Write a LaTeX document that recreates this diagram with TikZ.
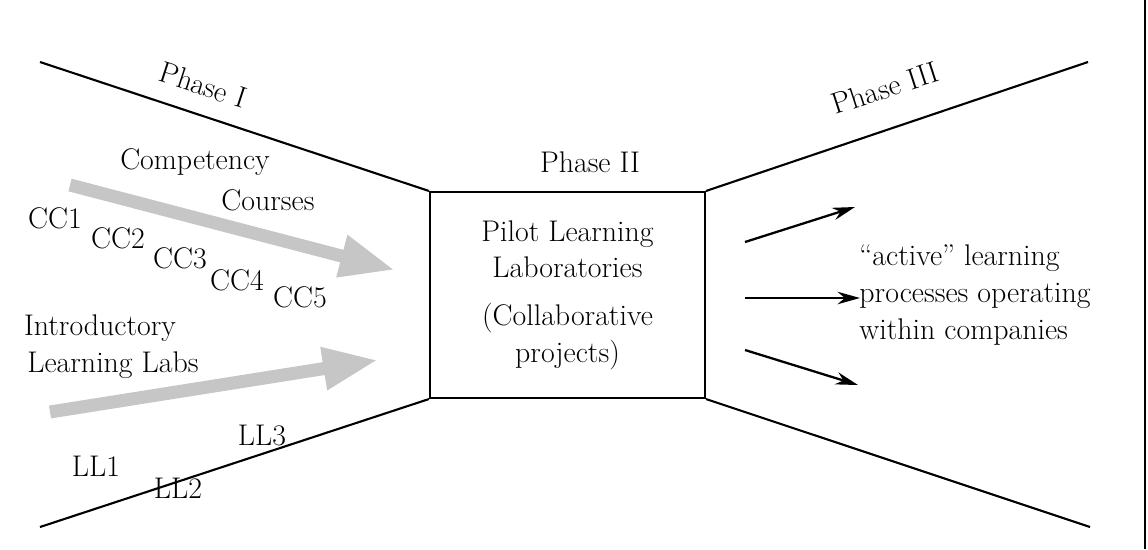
\documentclass[tikz,border=0pt]{standalone}
\usepackage{tikz}
\usetikzlibrary{arrows.meta,positioning}
\tikzstyle{every picture}+=[>=Stealth]
\tikzstyle{txt}=[font=\fontsize{17}{21}\selectfont,inner sep=0pt]
\tikzstyle{fat}=[draw=gray!45,line width=0.26cm,
  -{Triangle[width=0.8cm,length=1.1cm,fill=gray!45]}]
\tikzstyle{thin}=[line width=1.3pt,->,
  >={Stealth[length=0.45cm,width=0.25cm]}]
\begin{document}
\begin{tikzpicture}[x=0.02cm,y=-0.02cm]
\useasboundingbox (0,0) rectangle (1148,549);
% funnel
\node[draw,line width=1.2pt,minimum width=5.5cm,minimum height=4.12cm,
  txt,align=center] (lab) at (567.5,295)
  {Pilot Learning\\Laboratories\\[6pt](Collaborative\\projects)};
\coordinate (tl) at (40,62);  \coordinate (bl) at (40,527);
\coordinate (tr) at (1088,62); \coordinate (br) at (1090,527);
\draw[line width=1.2pt] (tl) -- (lab.north west) (bl) -- (lab.south west)
  (tr) -- (lab.north east) (br) -- (lab.south east);
\draw[line width=0.8pt] (1145,0) -- (1145,549);
% phases
\node[txt,rotate=-18] (p1) at (203,85) {Phase I};
\node[txt] (p2) at (590,162) {Phase II};
\node[txt,rotate=18] (p3) at (885,88) {Phase III};
% courses
\coordinate (ca) at (70,185); \coordinate (cb) at (395,270);
\draw[fat] (ca) -- (cb);
\node[txt] (comp) at (195,162) {Competency};
\node[txt] (cour) at (268,200) {Courses};
\node[txt] (cc1) at (55,218) {CC1};
\node[txt] (cc2) at (118,238) {CC2};
\node[txt] (cc3) at (180,258) {CC3};
\node[txt] (cc4) at (237,280) {CC4};
\node[txt] (cc5) at (300,297) {CC5};
% labs
\coordinate (la) at (50,412); \coordinate (lb) at (378,360);
\draw[fat] (la) -- (lb);
\node[txt] (intro) at (100,328) {Introductory};
\node[txt] (lelabs) at (113,365) {Learning Labs};
\node[txt] (ll1) at (96,466) {LL1};
\node[txt] (ll2) at (178,488) {LL2};
\node[txt] (ll3) at (262,436) {LL3};
% outcome
\node[txt,align=left] (act) at (975,295)
  {``active'' learning\\processes operating\\within companies};
\coordinate (a1) at (745,242); \coordinate (b1) at (855,207);
\coordinate (a2) at (745,298); \coordinate (b2) at (860,298);
\coordinate (a3) at (745,350); \coordinate (b3) at (858,385);
\draw[thin] (a1) -- (b1);
\draw[thin] (a2) -- (b2);
\draw[thin] (a3) -- (b3);
\end{tikzpicture}
\end{document}
